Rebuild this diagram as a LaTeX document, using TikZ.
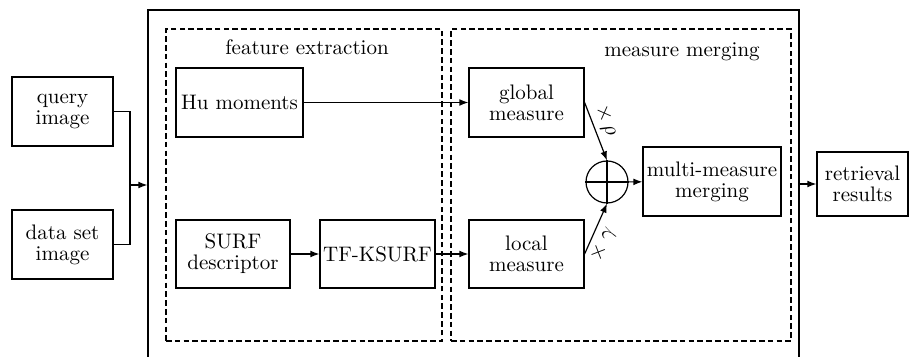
\documentclass[tikz,border=0pt]{standalone}
\usetikzlibrary{arrows.meta}

\begin{document}
\begin{tikzpicture}[x=0.5pt,y=-0.5pt,
    every node/.style={font=\fontsize{10.5}{10.5}\selectfont},
    block/.style={draw,line width=0.6pt,align=center,inner sep=0pt},
    group/.style={draw,line width=0.6pt,dash pattern=on 2.8pt off 1.6pt,inner sep=0pt},
    wire/.style={line width=0.6pt},
    flow/.style={wire,-{Latex[length=4.5pt,width=3.4pt]}}]
  \useasboundingbox (0,0) rectangle (909,357);
  \clip (0,0) rectangle (909,357);

  \node[block,minimum width=325.5pt,minimum height=180pt] (frame) at (473.5,190) {};
  \node[group,minimum width=138pt,minimum height=156pt] (extract) at (304,185) {};
  \node[group,minimum width=170pt,minimum height=156pt] (merge) at (621,185) {};
  \node (extracttitle) at (307,47) {feature extraction};
  \node (mergetitle) at (682,52) {measure merging};

  \node[block,minimum width=50.5pt,minimum height=34.5pt] (query) at (62.5,111.5) {query\\image};
  \node[block,minimum width=50.5pt,minimum height=34.5pt] (dataset) at (62.5,244.5) {data set\\image};
  \node[block,minimum width=63.5pt,minimum height=34.5pt] (hu) at (239.5,102.5) {Hu moments};
  \node[block,minimum width=57pt,minimum height=34pt] (surf) at (233,254) {SURF\\descriptor};
  \node[block,minimum width=57.5pt,minimum height=34pt] (tfk) at (377.5,254) {TF-KSURF};
  \node[block,minimum width=57.5pt,minimum height=34.5pt] (global) at (526.5,102.5) {global\\measure};
  \node[block,minimum width=57.5pt,minimum height=34pt] (local) at (526.5,254) {local\\measure};
  \node[circle,draw,line width=0.6pt,minimum size=21pt,inner sep=0pt] (sum) at (607,182) {};
  \node[block,minimum width=69pt,minimum height=34.5pt] (multi) at (712,181.5) {multi-measure\\merging};
  \node[block,minimum width=45.5pt,minimum height=32pt] (result) at (862.5,184) {retrieval\\results};
  \coordinate (join) at (130,185);

  \draw[wire] (sum.north) -- (sum.south) (sum.west) -- (sum.east);
  \draw[wire] (query.east) -| (join);
  \draw[wire] (dataset.east) -| (join);
  \draw[flow] (join) -- (join -| frame.west);
  \draw[flow] (hu) -- (global);
  \draw[flow] (surf) -- (tfk);
  \draw[flow] (tfk) -- (local);
  \draw[flow] (global.east) -- node[pos=0.4,sloped,above,inner sep=2pt] {$\times\,\rho$} (sum.north);
  \draw[flow] (local.east) -- node[pos=0.3,sloped,below,inner sep=2pt] {$\times\;\gamma$} (sum.south);
  \draw[flow] (sum) -- (multi);
  \draw[flow] (result.west -| frame.east) -- (result.west);
\end{tikzpicture}
\end{document}
